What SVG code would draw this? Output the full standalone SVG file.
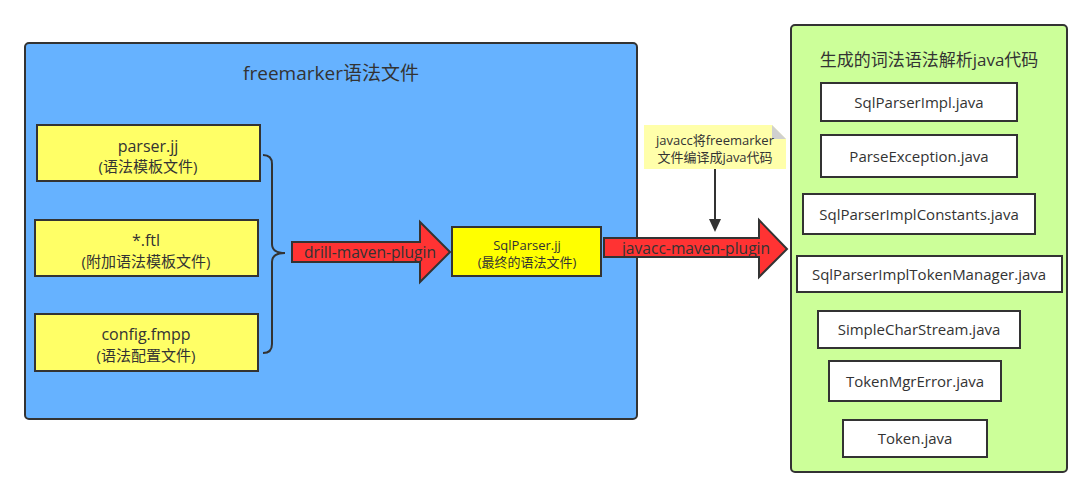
<svg xmlns="http://www.w3.org/2000/svg" width="1092" height="496" viewBox="0 0 1092 496">
<style>
text{font-family:"Open Sans","Noto Sans CJK SC",sans-serif;fill:#333;text-anchor:middle}
.yb{fill:#ffff66;stroke:#333;stroke-width:2}
.wb{fill:#fff;stroke:#333;stroke-width:2}
.arr{fill:#ff3333;stroke:#333;stroke-width:2;stroke-linejoin:miter}
.t16{font-size:16px}
.t15{font-size:15px}
.t155{font-size:15.6px}
.t13{font-size:13px}
</style>
<rect width="1092" height="496" fill="#fff"/>
<g id="freemarker-group">
<rect x="25" y="43" width="612" height="376" rx="4" fill="#66b2ff" stroke="#333" stroke-width="2"/>
<text x="331" y="80" style="font-size:19px">freemarker语法文件</text>
</g>
<g id="parser-jj">
<rect class="yb" x="37" y="125" width="223" height="56"/>
<text class="t16" x="148" y="152">parser.jj</text>
<text class="t15" x="148" y="172">(语法模板文件)</text>
</g>
<g id="ftl">
<rect class="yb" x="35" y="220" width="223" height="56"/>
<text class="t16" x="146" y="246">*.ftl</text>
<text class="t15" x="146" y="267">(附加语法模板文件)</text>
</g>
<g id="config-fmpp">
<rect class="yb" x="35" y="314" width="223" height="57"/>
<text class="t16" x="146" y="340">config.fmpp</text>
<text class="t15" x="146" y="361">(语法配置文件)</text>
</g>
<g id="sqlparser-jj">
<rect x="452" y="227" width="149" height="49" fill="#ffff00" stroke="#333" stroke-width="2"/>
<text class="t13" x="527" y="250">SqlParser.jj</text>
<text class="t13" x="527" y="267">(最终的语法文件)</text>
</g>
<g id="note">
<path d="M644,125 L772,125 L786,139 L786,169 L644,169 Z" fill="#ffffaa"/>
<path d="M772,125 L786,139 L772,139 Z" fill="#d0d0d0"/>
<text class="t13" x="715" y="145">javacc将freemarker</text>
<text class="t13" x="715" y="162">文件编译成java代码</text>
</g>
<g id="generated-group">
<rect x="791" y="25" width="276" height="447" rx="4" fill="#ccff99" stroke="#333" stroke-width="2"/>
<text x="929" y="66" style="font-size:17px">生成的词法语法解析java代码</text>
</g>
<g id="f1"><rect class="wb" x="821" y="83" width="196" height="38"/><text class="t15" x="919" y="108">SqlParserImpl.java</text></g>
<g id="f2"><rect class="wb" x="821" y="135" width="196" height="42"/><text class="t15" x="919" y="162">ParseException.java</text></g>
<g id="f3"><rect class="wb" x="803" y="194" width="232" height="40"/><text class="t15" x="919" y="220">SqlParserImplConstants.java</text></g>
<g id="f4"><rect class="wb" x="797" y="256" width="265" height="36"/><text class="t15" x="929" y="280">SqlParserImplTokenManager.java</text></g>
<g id="f5"><rect class="wb" x="818" y="311" width="202" height="37"/><text class="t15" x="919" y="335">SimpleCharStream.java</text></g>
<g id="f6"><rect class="wb" x="829" y="361" width="172" height="40"/><text class="t15" x="915" y="387">TokenMgrError.java</text></g>
<g id="f7"><rect class="wb" x="843" y="420" width="144" height="37"/><text class="t15" x="915" y="444">Token.java</text></g>
<g id="connectors">
<path d="M263,155 Q272,155 272,164 L272,244 Q272,253 285,253 Q272,253 272,262 L272,344 Q272,353 263,353" fill="none" stroke="#333" stroke-width="2"/>
<polygon class="arr" points="292,242 420,242 420,222 450,252 420,282 420,262 292,262"/>
<text class="t155" x="370" y="258">drill-maven-plugin</text>
<polygon class="arr" points="604,238 759,238 759,220 787,249 759,277 759,257 604,257"/>
<text class="t155" x="696" y="254">javacc-maven-plugin</text>
<line x1="715" y1="169" x2="715" y2="220" stroke="#333" stroke-width="2"/>
<polygon points="709,219 721,219 715,232" fill="#333"/>
</g>
</svg>
